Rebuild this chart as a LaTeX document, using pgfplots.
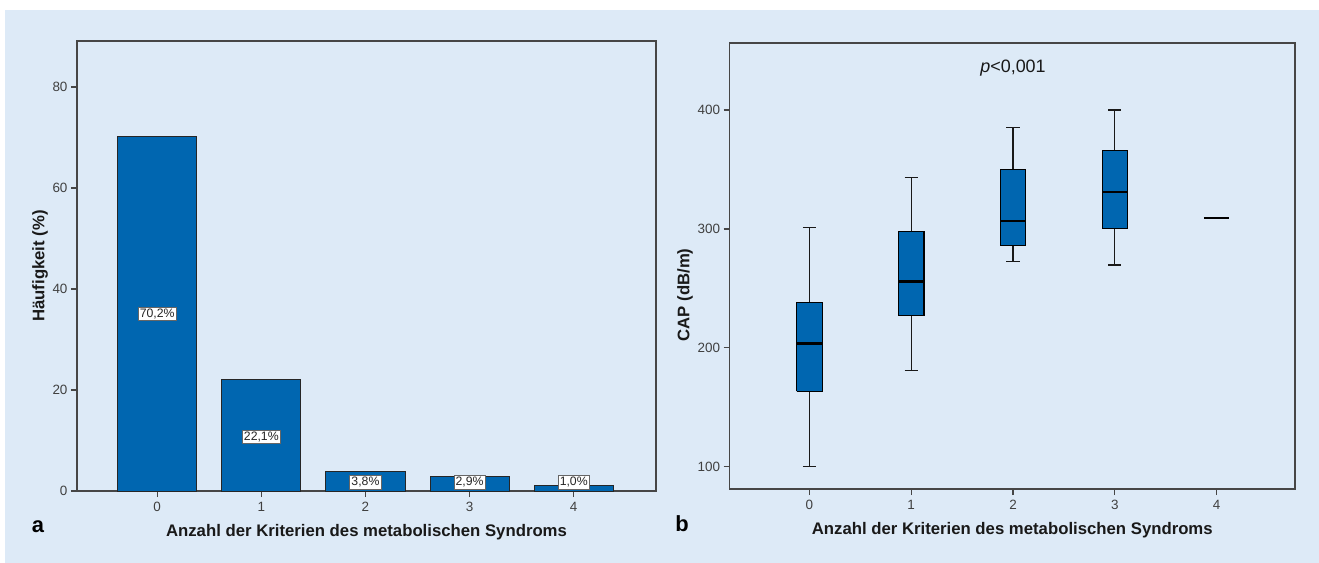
\documentclass[border=0pt]{standalone}
\usepackage{pgfplots}
\pgfplotsset{compat=1.18}
\usepackage{fontspec}
\setmainfont{Liberation Sans}
\definecolor{bg}{RGB}{221,234,247}
\definecolor{barblue}{RGB}{0,102,176}
\definecolor{spine}{RGB}{70,70,70}
\begin{document}
\begin{tikzpicture}
\fill[white] (0bp,0bp) rectangle (1319bp,563bp);
\fill[bg] (5bp,0bp) rectangle (1319bp,553bp);
\pgfplotsset{
  common/.style={
    scale only axis,
    axis line style={spine, line width=1.1bp},
    tick style={spine, line width=1.2bp},
    tick align=outside,
    major tick length=6bp,
    xtick pos=left, ytick pos=left,
    ticklabel style={font=\fontsize{13.5}{15}\selectfont, color=black!75},
    xticklabel style={yshift=-2bp},
    label style={font=\bfseries\fontsize{16.8}{19}\selectfont, color=black!90},
    /pgf/number format/assume math mode=true,
    clip=false,
  },
  box/.style={fill=barblue, draw=black, line width=1.1bp, line join=miter, mark=none},
  whisk/.style={draw=black!90, line width=1.2bp, mark=none, unbounded coords=jump},
  med/.style={draw=black, line width=2.4bp, mark=none},
}
% ---------- panel a ----------
\begin{axis}[common,
  at={(77bp,72bp)}, anchor=south west,
  width=579bp, height=450bp,
  xmin=-0.77, xmax=4.79, ymin=0, ymax=89.1,
  xtick={0,1,2,3,4}, ytick={0,20,40,60,80},
  xlabel={Anzahl der Kriterien des metabolischen Syndroms},
  xlabel style={at={(axis description cs:0.5,0)}, anchor=center, yshift=-41bp},
  ylabel={Häufigkeit (\%)},
  ylabel style={at={(axis description cs:0,0.5)}, anchor=center, yshift=37bp},
]
\addplot[ybar, bar width=0.76, fill=barblue, draw=black!85, line width=1bp]
  coordinates {(0,70.2) (1,22.1) (2,3.8) (3,2.9) (4,1.0)};
\addplot[draw=none, mark=none, nodes near coords, point meta=explicit symbolic,
  every node near coord/.style={anchor=center, fill=white, draw=black!60, line width=0.6bp,
    inner sep=1.7bp, font=\fontsize{12.3}{14}\selectfont, text=black!85}]
  coordinates {(0,35.1) [70,2\%] (1,10.75) [22,1\%] (2,1.7) [3,8\%] (3,1.7) [2,9\%] (4,1.7) [1,0\%]};
\end{axis}
% ---------- panel b ----------
\begin{axis}[common,
  at={(729.5bp,74bp)}, anchor=south west,
  width=565.5bp, height=446bp,
  xmin=-0.785, xmax=4.77, ymin=81.2, ymax=456.4,
  xtick={0,1,2,3,4}, ytick={100,200,300,400},
  xlabel={Anzahl der Kriterien des metabolischen Syndroms},
  xlabel style={at={(axis description cs:0.5,0)}, anchor=center, yshift=-41bp},
  ylabel={CAP (dB/m)},
  ylabel style={at={(axis description cs:0,0.435)}, anchor=center, yshift=44.5bp},
]
% group 0: whiskers 100 / 301.3, box 163.4-238.2, median 203.6
\addplot[whisk] coordinates {(0,238.2) (0,301.3) (0,nan) (-0.065,301.3) (0.065,301.3) (0,nan)
  (0,163.4) (0,100) (0,nan) (-0.065,100) (0.065,100)};
\addplot[box] coordinates {(-0.125,163.4) (0.125,163.4) (0.125,238.2) (-0.125,238.2) (-0.125,163.4)};
\addplot[med] coordinates {(-0.125,203.6) (0.125,203.6)};
% group 1: whiskers 180.6 / 343.5, box 227.5-298, median 255.9
\addplot[whisk] coordinates {(1,298) (1,343.5) (1,nan) (0.935,343.5) (1.065,343.5) (1,nan)
  (1,227.5) (1,180.6) (1,nan) (0.935,180.6) (1.065,180.6)};
\addplot[box] coordinates {(0.875,227.5) (1.125,227.5) (1.125,298) (0.875,298) (0.875,227.5)};
\addplot[med] coordinates {(0.875,255.9) (1.125,255.9)};
% group 2: whiskers 272.8 / 385.1, box 285.7-350, median 306.5
\addplot[whisk] coordinates {(2,350) (2,385.1) (2,nan) (1.935,385.1) (2.065,385.1) (2,nan)
  (2,285.7) (2,272.8) (2,nan) (1.935,272.8) (2.065,272.8)};
\addplot[box] coordinates {(1.875,285.7) (2.125,285.7) (2.125,350) (1.875,350) (1.875,285.7)};
\addplot[med] coordinates {(1.875,306.5) (2.125,306.5)};
% group 3: whiskers 269.7 / 400, box 300.2-365.7, median 330.9
\addplot[whisk] coordinates {(3,365.7) (3,400) (3,nan) (2.935,400) (3.065,400) (3,nan)
  (3,300.2) (3,269.7) (3,nan) (2.935,269.7) (3.065,269.7)};
\addplot[box] coordinates {(2.875,300.2) (3.125,300.2) (3.125,365.7) (2.875,365.7) (2.875,300.2)};
\addplot[med] coordinates {(2.875,330.9) (3.125,330.9)};
% group 4: single value 309.3
\addplot[med] coordinates {(3.875,309.3) (4.125,309.3)};
\node[font=\fontsize{18}{21}\selectfont, text=black!90] at (axis cs:2,435.4) {\textit{p}<0,001};
\end{axis}
\node[font=\bfseries\fontsize{22}{25}\selectfont] at (38bp,36bp) {a};
\node[font=\bfseries\fontsize{22}{25}\selectfont] at (682bp,39bp) {b};
\end{tikzpicture}
\end{document}
